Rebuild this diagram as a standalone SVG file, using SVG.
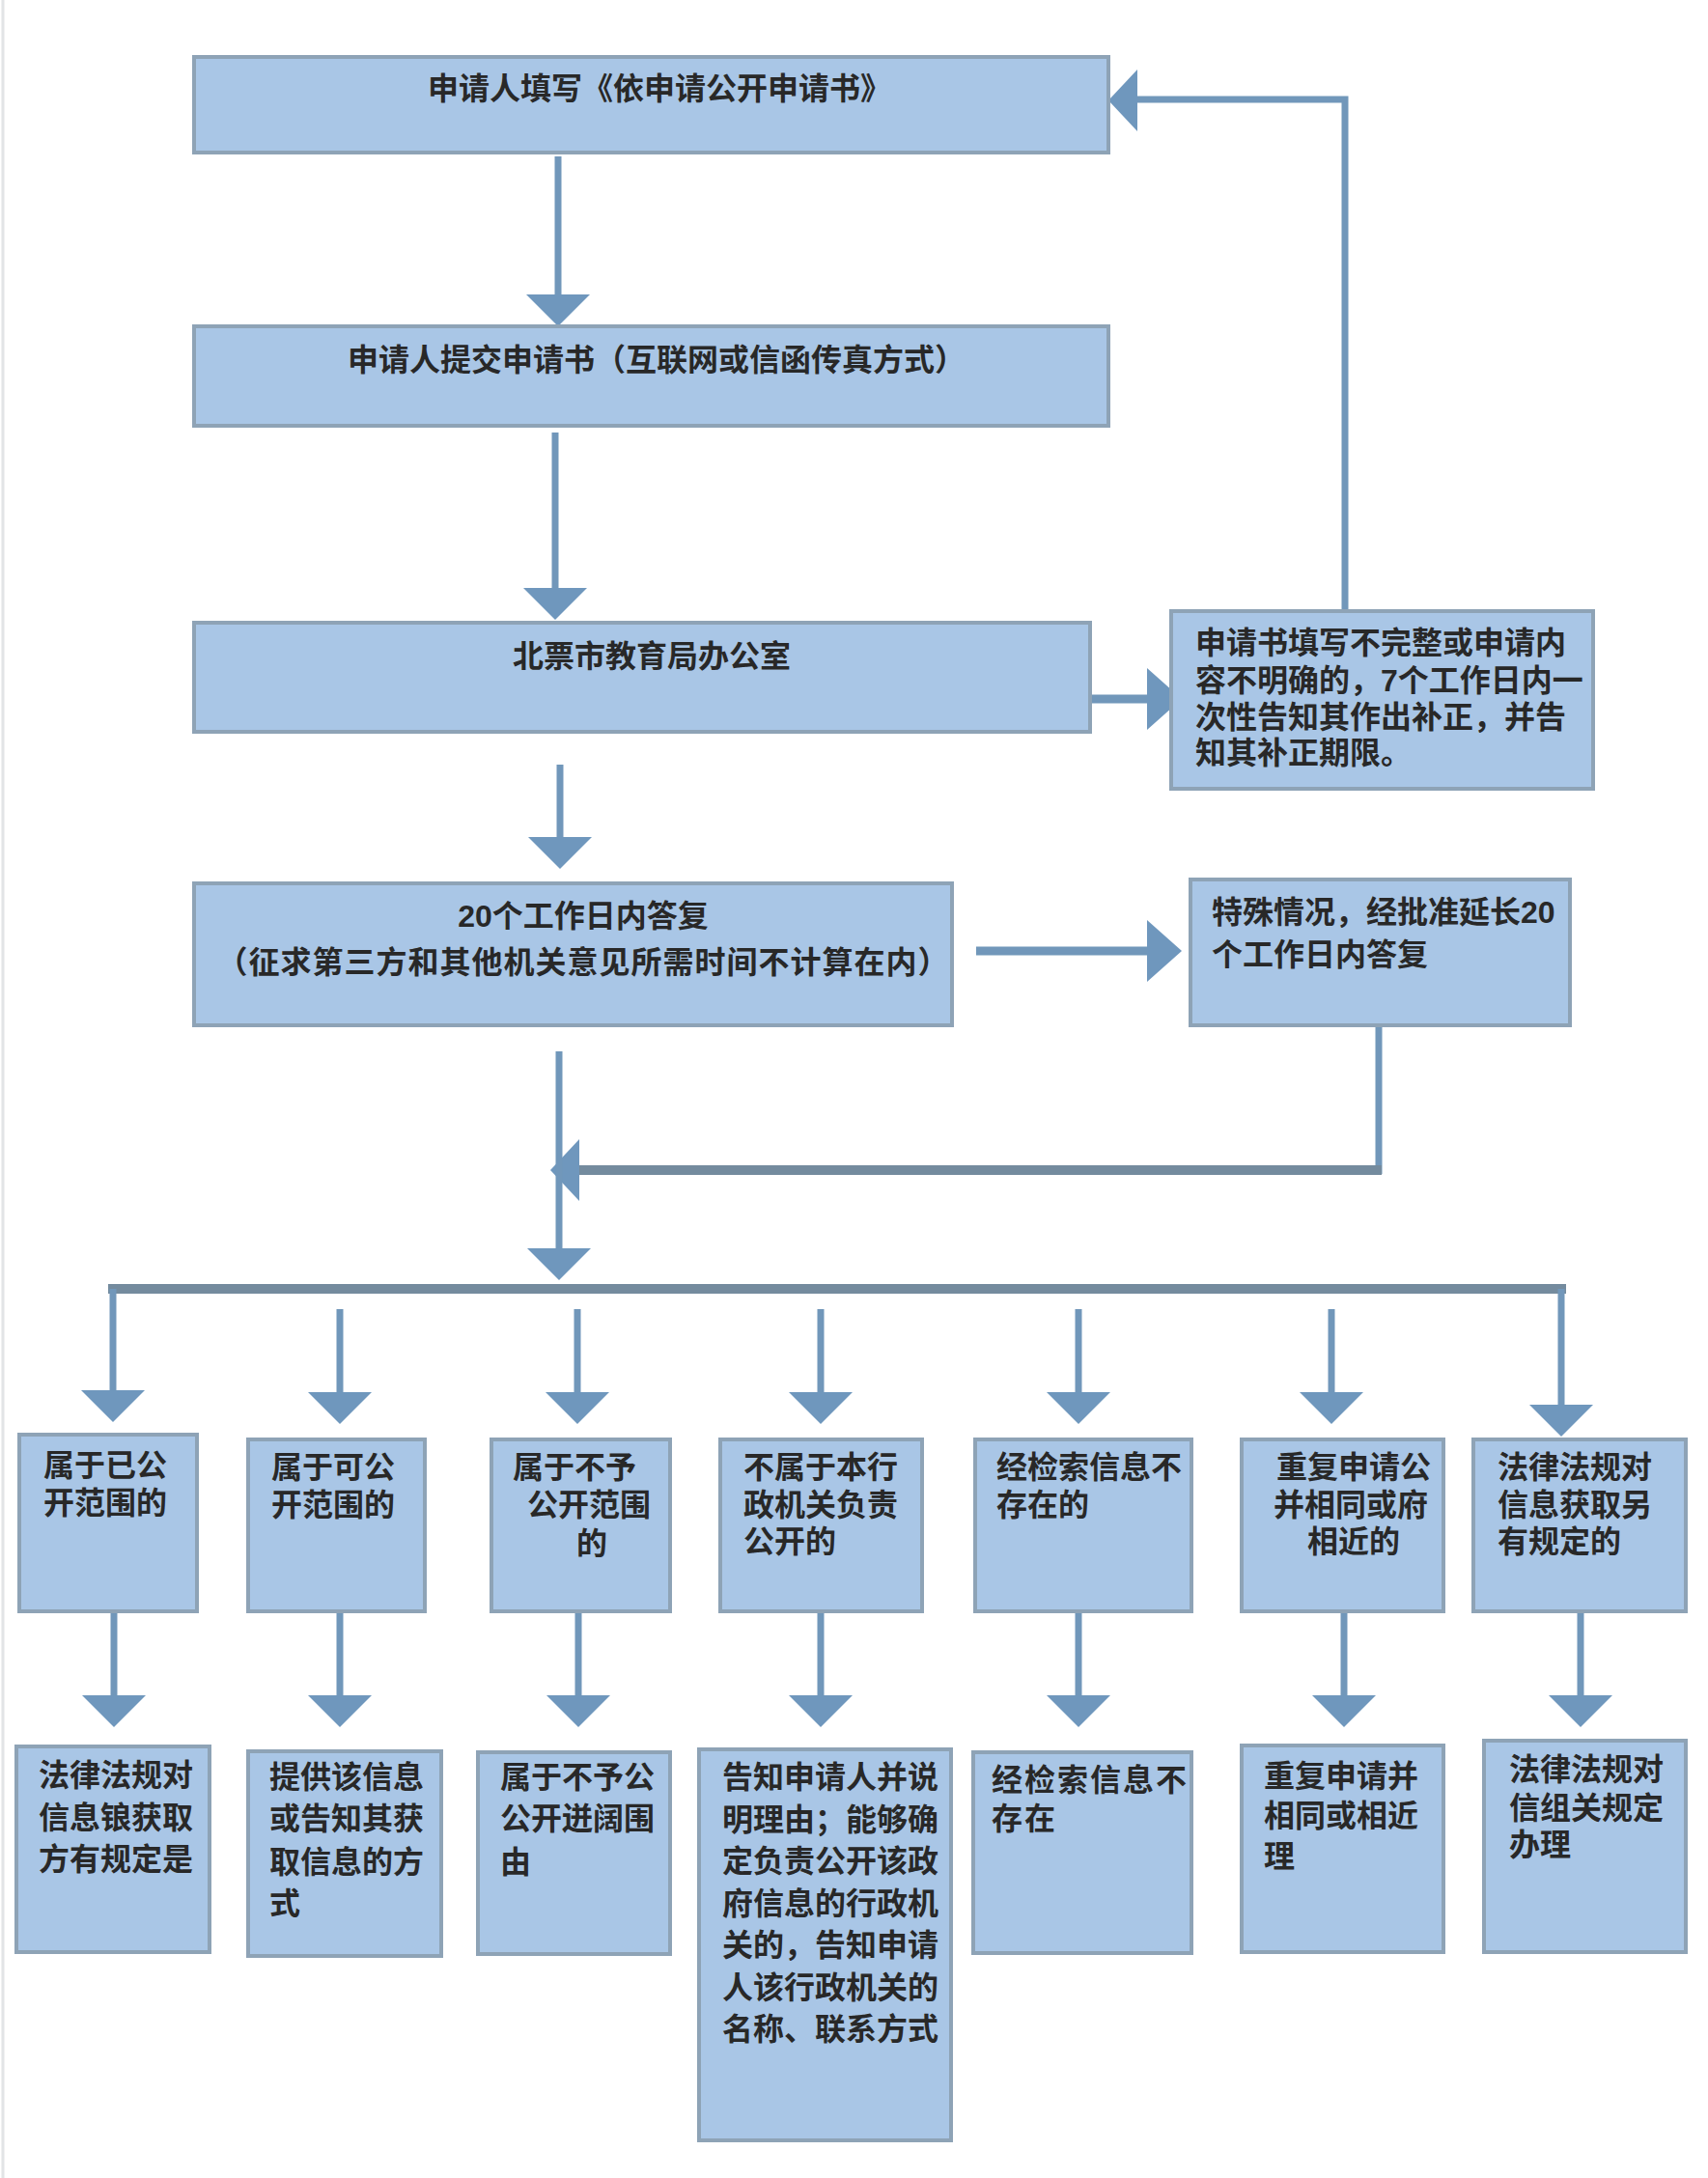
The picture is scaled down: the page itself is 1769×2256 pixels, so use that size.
<svg xmlns="http://www.w3.org/2000/svg" xmlns:xlink="http://www.w3.org/1999/xlink" width="1769" height="2256" viewBox="0 0 1769 2256">
<style>
.box { fill:#a9c6e6; stroke:#8ea3b6; stroke-width:4; }
.t { font-family:"Liberation Sans","Noto Sans CJK SC",sans-serif; font-size:32px; font-weight:700; fill:#282828; }
.c { text-anchor:middle; }
.ln { stroke:#7197ba; stroke-width:7; fill:none; }
.bar { stroke:#748b9e; stroke-width:10; fill:none; }
.hd { fill:#6f97bd; }
</style>
<defs>
<polygon id="hdown" points="-33,0 33,0 0,33"/>
<polygon id="hleft" points="0,0 30,-32 30,32"/>
<polygon id="hright" points="0,0 -36,-32 -36,32"/>
</defs>
<rect x="0" y="0" width="1769" height="2256" fill="#ffffff"/>
<line x1="3" y1="0" x2="3" y2="2256" stroke="#e2e4e6" stroke-width="3"/>

<g id="connectors">
  <!-- A -> B -->
  <line class="ln" x1="578" y1="162" x2="578" y2="308"/>
  <use href="#hdown" class="hd" x="578" y="305"/>
  <!-- B -> C -->
  <line class="ln" x1="575" y1="448" x2="575" y2="611"/>
  <use href="#hdown" class="hd" x="575" y="609"/>
  <!-- C -> D -->
  <line class="ln" x1="1129" y1="724" x2="1192" y2="724" style="stroke-width:9"/>
  <use href="#hright" class="hd" x="1224" y="724"/>
  <!-- D -> A loop -->
  <polyline class="ln" points="1393,633 1393,103 1172,103"/>
  <use href="#hleft" class="hd" x="1148" y="104"/>
  <!-- C -> E -->
  <line class="ln" x1="580" y1="792" x2="580" y2="869"/>
  <use href="#hdown" class="hd" x="580" y="867"/>
  <!-- E -> F -->
  <line class="ln" x1="1011" y1="985" x2="1190" y2="985" style="stroke-width:9"/>
  <use href="#hright" class="hd" x="1224" y="985"/>
  <!-- F -> main line -->
  <line class="ln" x1="1428" y1="1061" x2="1428" y2="1216"/>
  <line class="bar" x1="1431" y1="1212" x2="598" y2="1212"/>
  <use href="#hleft" class="hd" x="570" y="1212"/>
  <!-- main vertical -->
  <line class="ln" x1="579" y1="1089" x2="579" y2="1296"/>
  <use href="#hdown" class="hd" x="579" y="1293"/>
  <!-- distribution bar -->
  <line class="bar" x1="112" y1="1335" x2="1622" y2="1335"/>
  <line class="ln" x1="117" y1="1335" x2="117" y2="1442"/>
  <use href="#hdown" class="hd" x="117" y="1440"/>
  <line class="ln" x1="1617" y1="1335" x2="1617" y2="1457"/>
  <use href="#hdown" class="hd" x="1617" y="1455"/>
  <line class="ln" x1="352" y1="1356" x2="352" y2="1444"/>
  <use href="#hdown" class="hd" x="352" y="1442"/>
  <line class="ln" x1="598" y1="1356" x2="598" y2="1444"/>
  <use href="#hdown" class="hd" x="598" y="1442"/>
  <line class="ln" x1="850" y1="1356" x2="850" y2="1444"/>
  <use href="#hdown" class="hd" x="850" y="1442"/>
  <line class="ln" x1="1117" y1="1356" x2="1117" y2="1444"/>
  <use href="#hdown" class="hd" x="1117" y="1442"/>
  <line class="ln" x1="1379" y1="1356" x2="1379" y2="1444"/>
  <use href="#hdown" class="hd" x="1379" y="1442"/>
  <!-- row 1 -> row 2 -->
  <line class="ln" x1="118" y1="1670" x2="118" y2="1758"/>
  <use href="#hdown" class="hd" x="118" y="1756"/>
  <line class="ln" x1="352" y1="1670" x2="352" y2="1758"/>
  <use href="#hdown" class="hd" x="352" y="1756"/>
  <line class="ln" x1="599" y1="1670" x2="599" y2="1758"/>
  <use href="#hdown" class="hd" x="599" y="1756"/>
  <line class="ln" x1="850" y1="1670" x2="850" y2="1758"/>
  <use href="#hdown" class="hd" x="850" y="1756"/>
  <line class="ln" x1="1117" y1="1670" x2="1117" y2="1758"/>
  <use href="#hdown" class="hd" x="1117" y="1756"/>
  <line class="ln" x1="1392" y1="1670" x2="1392" y2="1758"/>
  <use href="#hdown" class="hd" x="1392" y="1756"/>
  <line class="ln" x1="1637" y1="1670" x2="1637" y2="1758"/>
  <use href="#hdown" class="hd" x="1637" y="1756"/>
</g>

<g id="nodeA">
  <rect class="box" x="201" y="59" width="947" height="99"/>
  <text class="t c" x="683" y="103">申请人填写《依申请公开申请书》</text>
</g>
<g id="nodeB">
  <rect class="box" x="201" y="338" width="947" height="103"/>
  <text class="t c" x="680" y="384">申请人提交申请书（互联网或信函传真方式）</text>
</g>
<g id="nodeC">
  <rect class="box" x="201" y="645" width="928" height="113"/>
  <text class="t c" x="675" y="691">北票市教育局办公室</text>
</g>
<g id="nodeD">
  <rect class="box" x="1213" y="633" width="437" height="184"/>
  <text class="t" x="1238" y="677">申请书填写不完整或申请内</text>
  <text class="t" x="1238" y="716">容不明确的，7个工作日内一</text>
  <text class="t" x="1238" y="754">次性告知其作出补正，并告</text>
  <text class="t" x="1238" y="791">知其补正期限。</text>
</g>
<g id="nodeE">
  <rect class="box" x="201" y="915" width="785" height="147"/>
  <text class="t c" x="604" y="960">20个工作日内答复</text>
  <text class="t c" x="604" y="1008" letter-spacing="1">（征求第三方和其他机关意见所需时间不计算在内）</text>
</g>
<g id="nodeF">
  <rect class="box" x="1233" y="911" width="393" height="151"/>
  <text class="t" x="1255" y="956">特殊情况，经批准延长20</text>
  <text class="t" x="1255" y="1000">个工作日内答复</text>
</g>

<g id="r1n1">
  <rect class="box" x="20" y="1486" width="184" height="183"/>
  <text class="t" x="45" y="1529">属于已公</text>
  <text class="t" x="45" y="1568">开范围的</text>
</g>
<g id="r1n2">
  <rect class="box" x="257" y="1491" width="183" height="178"/>
  <text class="t" x="281" y="1531">属于可公</text>
  <text class="t" x="281" y="1570">开范围的</text>
</g>
<g id="r1n3">
  <rect class="box" x="509" y="1491" width="185" height="178"/>
  <text class="t" x="531" y="1531">属于不予</text>
  <text class="t" x="546" y="1570">公开范围</text>
  <text class="t" x="597" y="1610">的</text>
</g>
<g id="r1n4">
  <rect class="box" x="746" y="1491" width="209" height="178"/>
  <text class="t" x="770" y="1531">不属于本行</text>
  <text class="t" x="770" y="1570">政机关负责</text>
  <text class="t" x="770" y="1608">公开的</text>
</g>
<g id="r1n5">
  <rect class="box" x="1010" y="1491" width="224" height="178"/>
  <text class="t" x="1032" y="1531">经检索信息不</text>
  <text class="t" x="1032" y="1570">存在的</text>
</g>
<g id="r1n6">
  <rect class="box" x="1286" y="1491" width="209" height="178"/>
  <text class="t" x="1322" y="1531">重复申请公</text>
  <text class="t" x="1319" y="1570">并相同或府</text>
  <text class="t" x="1354" y="1608">相近的</text>
</g>
<g id="r1n7">
  <rect class="box" x="1526" y="1491" width="220" height="178"/>
  <text class="t" x="1551" y="1531">法律法规对</text>
  <text class="t" x="1551" y="1570">信息获取另</text>
  <text class="t" x="1551" y="1608">有规定的</text>
</g>

<g id="r2n1">
  <rect class="box" x="17" y="1809" width="200" height="213"/>
  <text class="t" x="40" y="1850">法律法规对</text>
  <text class="t" x="40" y="1894">信息锒获取</text>
  <text class="t" x="40" y="1937">方有规定是</text>
</g>
<g id="r2n2">
  <rect class="box" x="257" y="1814" width="200" height="212"/>
  <text class="t" x="279" y="1852">提供该信息</text>
  <text class="t" x="279" y="1895">或告知其获</text>
  <text class="t" x="279" y="1940">取信息的方</text>
  <text class="t" x="279" y="1983">式</text>
</g>
<g id="r2n3">
  <rect class="box" x="495" y="1815" width="199" height="209"/>
  <text class="t" x="518" y="1852">属于不予公</text>
  <text class="t" x="518" y="1895">公开迸阔围</text>
  <text class="t" x="518" y="1940">由</text>
</g>
<g id="r2n4">
  <rect class="box" x="724" y="1812" width="261" height="405"/>
  <text class="t" x="748" y="1852">告知申请人并说</text>
  <text class="t" x="748" y="1896">明理由；能够确</text>
  <text class="t" x="748" y="1939">定负责公开该政</text>
  <text class="t" x="748" y="1983">府信息的行政机</text>
  <text class="t" x="748" y="2026">关的，告知申请</text>
  <text class="t" x="748" y="2070">人该行政机关的</text>
  <text class="t" x="748" y="2113">名称、联系方式</text>
</g>
<g id="r2n5">
  <rect class="box" x="1008" y="1815" width="226" height="208"/>
  <text class="t" x="1027" y="1855" letter-spacing="2">经检索信息不</text>
  <text class="t" x="1027" y="1895" letter-spacing="2">存在</text>
</g>
<g id="r2n6">
  <rect class="box" x="1286" y="1808" width="209" height="214"/>
  <text class="t" x="1309" y="1851">重复申请并</text>
  <text class="t" x="1309" y="1892">相同或相近</text>
  <text class="t" x="1309" y="1934">理</text>
</g>
<g id="r2n7">
  <rect class="box" x="1537" y="1803" width="209" height="219"/>
  <text class="t" x="1563" y="1844">法律法规对</text>
  <text class="t" x="1563" y="1884">信组关规定</text>
  <text class="t" x="1563" y="1922">办理</text>
</g>
</svg>
